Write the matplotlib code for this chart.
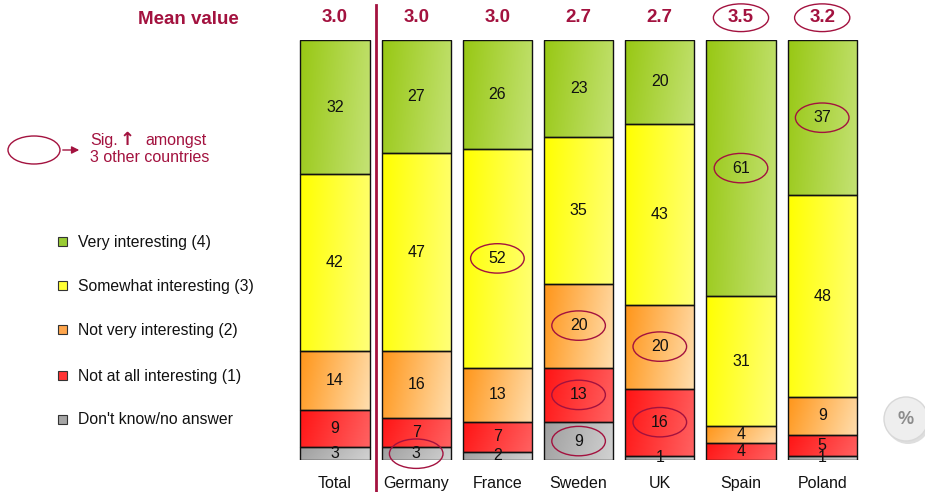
import numpy as np
import matplotlib
matplotlib.use("Agg")
import matplotlib.pyplot as plt
from matplotlib.colors import LinearSegmentedColormap
from matplotlib.patches import Ellipse, Rectangle, Circle, FancyArrowPatch

plt.rcParams['font.family'] = ['Liberation Sans', 'DejaVu Sans']

countries = ["Total", "Germany", "France", "Sweden", "UK", "Spain", "Poland"]
mean_values = ["3.0", "3.0", "3.0", "2.7", "2.7", "3.5", "3.2"]
series_names = ["Don't know/no answer", "Not at all interesting (1)", "Not very interesting (2)",
                "Somewhat interesting (3)", "Very interesting (4)"]
dont_know = [3, 3, 2, 9, 1, 0, 1]
not_at_all = [9, 7, 7, 13, 16, 4, 5]
not_very = [14, 16, 13, 20, 20, 4, 9]
somewhat = [42, 47, 52, 35, 43, 31, 48]
very = [32, 27, 26, 23, 20, 61, 37]
series_values = [dont_know, not_at_all, not_very, somewhat, very]
# significance markers: (series index, country)
sig_cells = [(0, "Germany"), (0, "Sweden"), (1, "Sweden"), (1, "UK"), (2, "Sweden"), (2, "UK"),
             (3, "France"), (4, "Spain"), (4, "Poland")]
sig_means = ["Spain", "Poland"]

grad_colors = [("#9e9e9e", "#d2d2d2"), ("#ff1414", "#ff6262"), ("#ff961a", "#ffdeae"),
               ("#ffff00", "#ffff78"), ("#98c814", "#c4e274")]
legend_colors = ["#a6a6a6", "#ff3333", "#ffa64d", "#ffff33", "#99cc33"]
maroon = "#a3123f"

W, H = 925, 492
fig = plt.figure(figsize=(W / 100, H / 100), dpi=100)

# overlay axes in pixel coordinates for decorations
ov = fig.add_axes([0, 0, 1, 1], zorder=0)
ov.set_xlim(0, W)
ov.set_ylim(H, 0)
ov.axis("off")

ax = fig.add_axes([294.4 / W, (H - 460) / H, 568.4 / W, 420 / H], zorder=1)
ax.set_xlim(-0.5, 6.5)
ax.set_ylim(0, 100)
ax.axis("off")

x = np.arange(len(countries))
width = 0.85
bottoms = np.zeros(len(countries))
for si, vals in enumerate(series_values):
    vals = np.array(vals, dtype=float)
    bars = ax.bar(x, vals, width, bottom=bottoms, facecolor="none", edgecolor="#111111",
                  linewidth=1.0, zorder=3)
    cmap = LinearSegmentedColormap.from_list("g%d" % si, list(grad_colors[si]))
    for i, p in enumerate(bars.patches):
        if vals[i] <= 0:
            p.set_visible(False)
            continue
        x0, y0 = p.get_x(), p.get_y()
        x1, y1 = x0 + p.get_width(), y0 + p.get_height()
        gx = np.linspace(0, 1, 80)[None, :]
        gy = np.linspace(0, 1, 20)[:, None]
        grad = np.clip(0.85 * gx + 0.15 * gy, 0, 1)
        im = ax.imshow(grad, cmap=cmap, extent=[x0, x1, y0, y1], aspect="auto",
                       interpolation="bilinear", origin="upper", zorder=2)
        im.set_clip_path(p)
        ax.text(x0 + p.get_width() / 2, y0 + vals[i] / 2, "%d" % vals[i], ha="center",
                va="center", fontsize=11.5, color="#111111", zorder=5)
    bottoms = bottoms + vals

ax.set_xlim(-0.5, 6.5)
ax.set_ylim(0, 100)

# significance ellipses around bar values
for si, c in sig_cells:
    i = countries.index(c)
    yb = sum(series_values[k][i] for k in range(si))
    yc = yb + series_values[si][i] / 2
    ax.add_patch(Ellipse((i, yc), 0.66, 7.0, facecolor="none", edgecolor=maroon,
                         linewidth=1.0, zorder=6, clip_on=False))

# country labels and mean values
for i, c in enumerate(countries):
    ax.text(i, -5.6, c, ha="center", va="center", fontsize=11.5, color="#111111", clip_on=False)
    ax.text(i, 105.3, mean_values[i], ha="center", va="center", fontsize=13.5,
            fontweight="bold", color=maroon, clip_on=False)
    if c in sig_means:
        ax.add_patch(Ellipse((i, 105.3), 0.68, 6.6, facecolor="none", edgecolor=maroon,
                             linewidth=1.0, clip_on=False))

ov.text(188, 19, "Mean value", ha="center", va="center", fontsize=13.5, fontweight="bold",
        color=maroon)
ov.plot([376, 376], [5, H], color=maroon, linewidth=2)

# sig legend
ov.add_patch(Ellipse((34, 150), 52, 28, facecolor="none", edgecolor=maroon, linewidth=1.0))
ov.add_patch(FancyArrowPatch((60, 150), (82, 150), arrowstyle="-|>", mutation_scale=11,
                             color=maroon, linewidth=1.0))
ov.text(90, 140, "Sig.", ha="left", va="center", fontsize=11.5, color=maroon)
ov.text(127, 140, "\u2191", ha="center", va="center", fontsize=13, fontweight="bold", color=maroon,
        family=["DejaVu Sans"])
ov.text(145, 140, "amongst", ha="left", va="center", fontsize=11.5, color=maroon)
ov.text(90, 158, "3 other countries", ha="left", va="center", fontsize=11.5, color=maroon)

# legend
legend_y = [242, 286, 330, 376, 420]
for k, yy in enumerate(legend_y):
    si = 4 - k
    ov.add_patch(Rectangle((58, yy - 5), 9, 9, facecolor=legend_colors[si], edgecolor="#333333",
                           linewidth=0.8))
    ov.text(78, yy, series_names[si], ha="left", va="center", fontsize=11.3, color="#111111")

# percent button
ov.add_patch(Circle((908, 422), 22, facecolor="#c8c8c8", edgecolor="none", alpha=0.6))
ov.add_patch(Circle((906, 419), 22, facecolor="#eeeeee", edgecolor="#d8d8d8", linewidth=1))
ov.text(906, 419, "%", ha="center", va="center", fontsize=13, color="#8c8c8c", fontweight="bold")

fig.savefig("out.png", dpi=100)
